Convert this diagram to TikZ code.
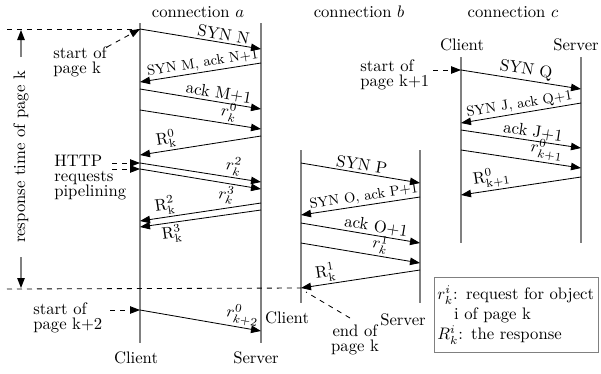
\documentclass[tikz,border=0pt]{standalone}
\usetikzlibrary{arrows.meta}
\begin{document}
\begin{tikzpicture}[x=0.6pt,y=-0.6pt,
  tip/.style={-{Triangle[length=6pt,width=4.5pt]}},
  life/.style={draw=gray, line width=0.7pt},
  msg/.style={tip, line width=0.5pt},
  guide/.style={dashed, line width=0.5pt},
  lbl/.style={sloped, above, inner sep=1.2pt},
  lblb/.style={sloped, below, inner sep=1.2pt},
  smalltext/.style={font=\fontsize{8.5}{10}\selectfont},
  note/.style={align=left, inner sep=0pt, font=\fontsize{10}{9}\selectfont},
  role/.style={inner sep=0pt},
]
\useasboundingbox (0,0) rectangle (601,373);

% ---------- headings ----------
\node (ta) at (198,12) {connection $a$};
\node (tb) at (359,12) {connection $b$};
\node (tc) at (513,12) {connection $c$};

% ---------- lifelines ----------
\coordinate (aCt) at (140,23);  \coordinate (aCb) at (140,343);
\coordinate (aSt) at (261,23);  \coordinate (aSb) at (261,343);
\coordinate (bCt) at (301,150); \coordinate (bCb) at (301,303);
\coordinate (bSt) at (420,150); \coordinate (bSb) at (420,303);
\coordinate (cCt) at (461,57);  \coordinate (cCb) at (461,243);
\coordinate (cSt) at (581,57);  \coordinate (cSb) at (581,243);
\draw[life] (aCt) -- (aCb);
\draw[life] (aSt) -- (aSb);
\draw[life] (bCt) -- (bCb);
\draw[life] (bSt) -- (bSb);
\draw[life] (cCt) -- (cCb);
\draw[life] (cSt) -- (cSb);

\node[role] (aC) at (136,358) {Client};
\node[role] (aS) at (256,358) {Server};
\node[role] (bC) at (287,318) {Client};
\node[role] (bS) at (403,320) {Server};
\node[role] (cC) at (462,45) {Client};
\node[role] (cS) at (576,45) {Server};

% ---------- connection a ----------
\coordinate (a1s) at (140,29);  \coordinate (a1e) at (261,49);
\coordinate (a2s) at (261,63);  \coordinate (a2e) at (140,82);
\coordinate (a3s) at (140,89);  \coordinate (a3e) at (261,109);
\coordinate (a4s) at (140,110); \coordinate (a4e) at (261,129);
\coordinate (a5s) at (261,136); \coordinate (a5e) at (140,155);
\coordinate (a6s) at (140,163); \coordinate (a6e) at (261,182);
\coordinate (a7s) at (140,169); \coordinate (a7e) at (261,189);
\coordinate (a8s) at (261,203); \coordinate (a8e) at (140,221);
\coordinate (a9s) at (261,210); \coordinate (a9e) at (140,227);
\coordinate (a10s) at (140,310); \coordinate (a10e) at (261,331);

\draw[msg] (a1s) -- node[lbl, pos=.68] {SYN N} (a1e);
\draw[msg] (a2s) -- node[lbl, pos=.47, smalltext] {SYN M, ack N+1} (a2e);
\draw[msg] (a3s) -- node[lbl, pos=.64] {ack M+1} (a3e);
\draw[msg] (a4s) -- node[lbl, pos=.72] {$r^0_k$} (a4e);
\draw[msg] (a5s) -- node[lbl, pos=.77] {$\mathrm{R}^0_\mathrm{k}$} (a5e);
\draw[msg] (a6s) -- node[lbl, pos=.76] {$r^2_k$} (a6e);
\draw[msg] (a7s) -- node[lblb, pos=.73] {$r^3_k$} (a7e);
\draw[msg] (a8s) -- node[lbl, pos=.78] {$\mathrm{R}^2_\mathrm{k}$} (a8e);
\draw[msg] (a9s) -- node[lblb, pos=.75] {$\mathrm{R}^3_\mathrm{k}$} (a9e);
\draw[msg] (a10s) -- node[lbl, pos=.83] {$r^0_{k+2}$} (a10e);

% ---------- connection b ----------
\coordinate (b1s) at (301,163); \coordinate (b1e) at (420,183);
\coordinate (b2s) at (420,197); \coordinate (b2e) at (301,215);
\coordinate (b3s) at (301,223); \coordinate (b3e) at (420,243);
\coordinate (b4s) at (301,243); \coordinate (b4e) at (420,263);
\coordinate (b5s) at (420,270); \coordinate (b5e) at (301,288);

\draw[msg] (b1s) -- node[lbl, pos=.5] {SYN P} (b1e);
\draw[msg] (b2s) -- node[lbl, pos=.46, smalltext] {SYN O, ack P+1} (b2e);
\draw[msg] (b3s) -- node[lbl, pos=.62] {ack O+1} (b3e);
\draw[msg] (b4s) -- node[lbl, pos=.65] {$r^1_k$} (b4e);
\draw[msg] (b5s) -- node[lbl, pos=.78] {$\mathrm{R}^1_\mathrm{k}$} (b5e);

% ---------- connection c ----------
\coordinate (c1s) at (461,70);  \coordinate (c1e) at (581,89);
\coordinate (c2s) at (581,103); \coordinate (c2e) at (461,123);
\coordinate (c3s) at (461,130); \coordinate (c3e) at (581,148);
\coordinate (c4s) at (461,150); \coordinate (c4e) at (581,168);
\coordinate (c5s) at (581,177); \coordinate (c5e) at (461,195);

\draw[msg] (c1s) -- node[lbl, pos=.53] {SYN Q} (c1e);
\draw[msg] (c2s) -- node[lbl, pos=.5, smalltext] {SYN J, ack Q+1} (c2e);
\draw[msg] (c3s) -- node[lbl, pos=.59] {ack J+1} (c3e);
\draw[msg] (c4s) -- node[lbl, pos=.7] {$r^0_{k+1}$} (c4e);
\draw[msg] (c5s) -- node[lbl, pos=.73] {$\mathrm{R}^0_{\mathrm{k}+1}$} (c5e);

% ---------- page-k time span ----------
\coordinate (topL) at (7,29);
\coordinate (botL) at (7,289);
\draw[guide] (topL) -- (a1s);
\draw[guide] (botL) -- (b5e);

\node[rotate=90] (rt) at (21,157) {response time of page k};
\coordinate (up0) at (21,57);  \coordinate (up1) at (21,30);
\coordinate (dn0) at (21,257); \coordinate (dn1) at (21,288);
\draw[gray, line width=0.7pt, -{Triangle[length=6pt,width=4.5pt,black]}] (up0) -- (up1);
\draw[gray, line width=0.7pt, -{Triangle[length=6pt,width=4.5pt,black]}] (dn0) -- (dn1);

% ---------- annotations ----------
\node[note, anchor=west] (sk) at (53,61.5) {start of\\page k};
\coordinate (skt) at (107,47);
\draw[guide, tip] (skt) -- (a1s);

\node[note, anchor=west] (http) at (54,178) {HTTP\\requests\\pipelining};
\coordinate (h1) at (112,163);
\coordinate (h2) at (112,169);
\draw[guide, tip] (h1) -- (a6s);
\draw[guide, tip] (h2) -- (a7s);

\node[note, anchor=west] (sk2) at (33,318) {start of\\page k+2};
\coordinate (sk2t) at (110,310);
\draw[guide, tip] (sk2t) -- (a10s);

\node[note, anchor=west] (sk1) at (360,75) {start of\\page k+1};
\coordinate (sk1t) at (433,70);
\draw[guide, tip] (sk1t) -- (c1s);

\node[note, align=center] (ek) at (355,340) {end of\\page k};
\coordinate (ekt) at (350,318);
\coordinate (ekh) at (306,292);
\draw[guide] (ekt) -- (ekh);

% ---------- legend ----------
\node[draw=gray, line width=0.7pt, anchor=north west, align=left,
      minimum width=98.4pt, minimum height=45pt, inner xsep=1.5pt,
      text width=95pt] (leg) at (434,277)
  {$r^i_k$: request for object\\
   \hspace*{10pt}i of page k\\
   $R^i_k$: the response};
\end{tikzpicture}
\end{document}
